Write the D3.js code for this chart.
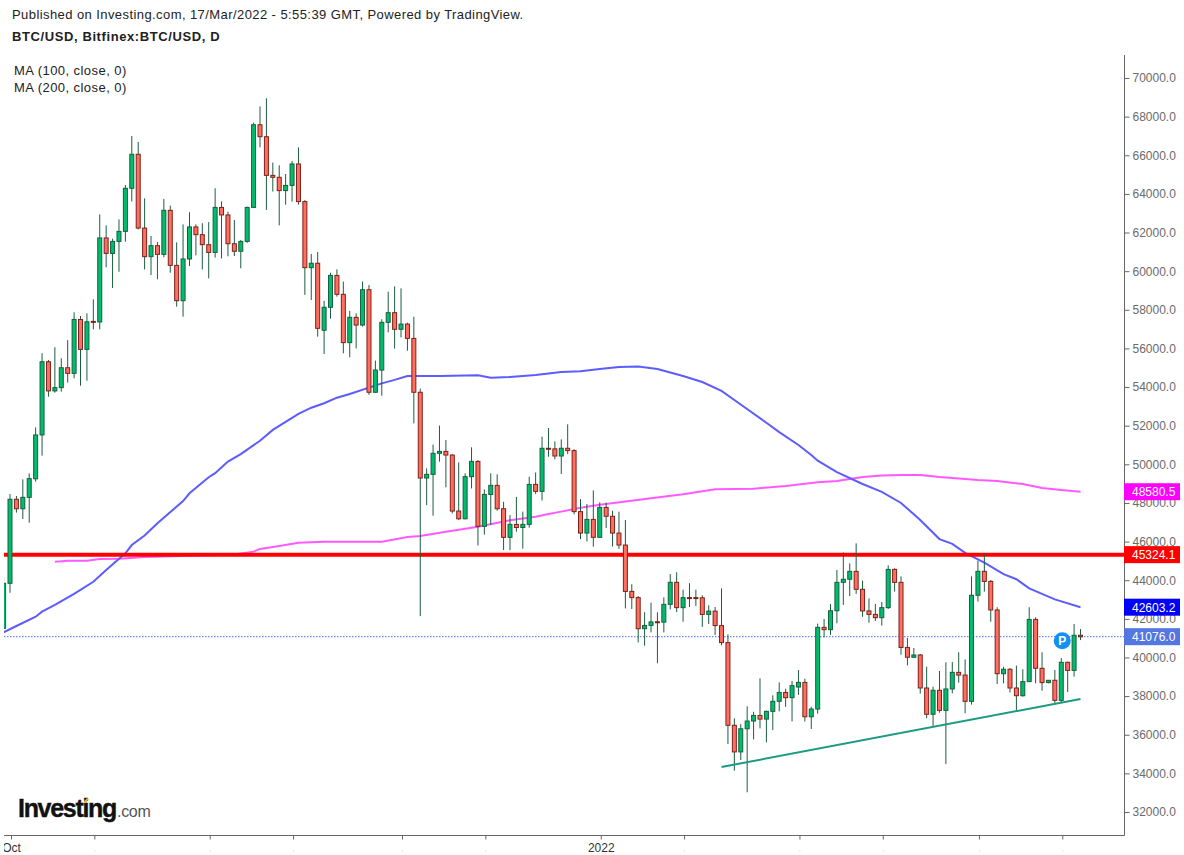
<!DOCTYPE html>
<html>
<head>
<meta charset="utf-8">
<title>BTC/USD</title>
<script src="https://cdn.jsdelivr.net/npm/d3@7"></script>
<style>
  html, body { margin: 0; padding: 0; background: #fff; overflow: hidden; }
  text { font-family: "Liberation Sans", Arial, sans-serif; }
</style>
</head>
<body>
<script>
// Daily candles, first one is the day before the Oct tick (day -1).
const firstDay = -1;

const opens = [
  41510,43840,48190,47700,48290,49250,51520,55310,53800,53970,
  55000,54710,57500,55950,57400,57370,61720,60920,61540,62060,
  64290,66050,62230,60750,61320,60870,63150,60300,58470,60630,
  62290,61890,61370,60970,63300,62910,61420,61030,61540,63300,
  67580,66960,64960,64860,64170,64440,65550,63600,60180,60410,
  56940,58130,59780,58800,56300,57610,57210,59040,53730,54880,
  57350,57850,56990,57260,56520,53730,49290,49480,50570,50670,
  50480,47580,47180,49360,50150,46790,48440,48910,47700,46220,
  46890,46730,46890,48960,48600,50830,50800,50430,50830,50710,
  47550,46440,47150,46220,47770,47310,46440,45820,43420,43100,
  41490,41660,41850,41830,42750,43890,42580,43100,43100,43090,
  42230,42400,41650,40770,36490,35110,36310,36710,37000,36810,
  37210,37730,38190,37920,38470,38710,36930,37330,41560,41440,
  42420,43890,44050,44460,43530,42410,42230,42060,42580,44560,
  43890,40520,40010,40130,38420,37060,38300,37260,38370,39230,
  39090,37730,43220,44460,43940,42460,39160,39390,38420,38020,
  38750,41970,39440,38700,38820,37780,39750,39330,41150
];

const highs = [
  44150,48460,48360,49220,49530,51910,55750,55400,56060,55490,
  56430,57870,57680,57820,58540,62940,62370,61680,62680,64460,
  67000,66690,63770,61820,61510,63740,63390,61490,62420,63050,
  62420,62480,62540,64290,63610,63080,62650,61610,63340,67690,
  68530,68950,65620,65480,65030,65700,66410,63680,60890,60990,
  58460,59920,60090,59460,57940,57820,59460,59280,55370,57510,
  58940,59210,59110,57330,57640,53920,49790,51020,52000,51260,
  50520,50100,49530,50880,50220,48700,49530,49480,48060,47370,
  48310,47550,49360,49580,51430,51880,51190,51290,52070,50780,
  48200,47950,48650,48030,48010,47600,47550,47120,43790,43180,
  42340,42840,42340,43110,44320,44410,43510,43850,43510,43220,
  42700,42610,43580,41200,36850,36550,37470,37190,38920,37250,
  38040,38710,38380,38780,39350,38900,37450,41750,41990,42770,
  44530,45440,44870,45910,43980,43060,42770,42870,44770,44620,
  44200,41010,40490,40180,39520,38490,39300,39750,39770,40270,
  39900,44200,45010,45360,44010,42600,39520,39450,39580,39390,
  42600,42080,40270,38830,39350,39970,39780,41730,41470
];

const lows = [
  41510,43350,47500,47170,46980,49100,50450,53500,53710,53760,
  54230,54450,54070,54330,56990,56990,60200,59130,59970,61530,
  63610,62160,60090,59800,59580,60720,59920,58160,57640,60270,
  60820,60090,59630,60700,60660,60770,60780,60150,61470,63300,
  66410,63170,64120,62370,63440,63600,63450,58770,58510,56610,
  55710,57540,58680,55750,55540,56000,57130,53600,53700,53550,
  56830,55990,56570,55880,52120,42140,47890,47340,50140,48810,
  47460,47120,47150,48750,45800,46360,46860,47600,45560,45560,
  46510,45630,46720,48460,48120,50390,50260,49500,50530,47410,
  46130,46010,45740,46220,46700,45740,45620,42540,42510,40780,
  40610,41300,39700,41300,42490,42350,41850,42610,42660,41580,
  41730,41160,40630,35520,34140,34690,33020,35760,36330,35610,
  36240,37210,37440,36690,38060,36680,36300,37090,41040,41160,
  41770,42720,43180,43290,42100,41800,41890,41650,42510,43410,
  40140,39590,39980,38130,36850,36420,37140,34480,38140,38700,
  37110,37560,42890,43410,41850,38630,38660,38180,37210,37970,
  38750,38660,38280,38660,37630,37630,38210,39010,40900
];

const closes = [
  43840,48190,47700,48290,49260,51520,55310,53800,53970,55000,
  54710,57500,55950,57380,57370,61720,60920,61540,62060,64290,
  66050,62230,60750,61320,60870,63150,60300,58470,60630,62290,
  61890,61370,60970,63300,62910,61420,61030,61540,63300,67580,
  66960,64960,64860,64170,64440,65550,63600,60180,60410,57040,
  58130,59780,58800,56300,57610,57210,59040,53730,54880,57350,
  57850,56990,57260,56520,53730,49290,49480,50570,50670,50480,
  47580,47180,49360,50150,46790,48440,48910,47700,46220,46890,
  46730,46890,48960,48600,50830,50790,50430,50830,50710,47550,
  46440,47150,46220,47770,47310,46440,45820,43420,43100,41490,
  41660,41840,41810,42750,43890,42580,43100,43070,43070,42230,
  42400,41650,40770,36490,35110,36310,36710,37000,36810,37210,
  37730,38190,37920,38540,38710,36930,37330,41560,41440,42420,
  43890,44050,44460,43530,42410,42230,42060,42580,44560,43890,
  40520,40010,40130,38420,37060,38300,37260,38370,39230,39090,
  37730,43220,44460,43940,42460,39160,39390,38420,38020,38750,
  41970,39440,38700,38820,37780,39750,39330,41150,41076
];

// Moving averages, read at the days where the curve bends.
const ma100Days = [-1,1,4,5,7,10,13,15,18,19,21,23,27,28,31,32,34,36,39,41,45,47,49,51,53,58,60,62,67,73,75,78,82,86,89,92,95,98,101,105,108,111,113,118,120,123,125,126,129,133,136,139,142,145,147,149,152,155,157,159,163,167];
const ma100Values = [41300,41630,42110,42370,42720,43290,43920,44530,45390,45820,46310,46950,48100,48500,49330,49540,50140,50530,51220,51780,52610,52930,53160,53450,53640,54190,54370,54570,54570,54610,54480,54520,54620,54780,54820,54930,55040,55060,54930,54570,54260,53800,53330,52150,51670,51000,50480,50190,49600,48980,48570,48000,47120,46130,45880,45420,44910,44310,44050,43580,43010,42603];

const ma200Days = [7,8,9,12,14,17,21,35,38,39,42,45,49,58,62,64,68,73,78,82,84,86,89,92,100,105,110,116,121,126,129,133,136,139,142,145,148,151,154,158,161,164,167];
const ma200Values = [44960,44980,45010,45010,45100,45110,45200,45330,45480,45620,45770,45940,45990,45990,46240,46290,46510,46770,47100,47290,47430,47550,47750,47910,48240,48450,48710,48740,48880,49070,49140,49340,49420,49450,49450,49340,49270,49190,49140,48980,48770,48670,48580.5];

// Trend line under the lows and the horizontal level.
const trendDays = [111, 167];
const trendValues = [34330, 37850];
const levelValue = 45324.1;
const lastValue = 41076.0;

const priceTicks = d3.range(32000, 70001, 2000);
const dayTicks = [0, 13, 31, 44, 61, 74, 92, 105, 123, 136, 151, 164];
const dayTickLabels = ['Oct', '', '', '', '', '', '2022', '', '', '', '', ''];

const priceTags = [
  {value: 48580.5, label: '48580.5', color: '#ff00ff'},
  {value: levelValue, label: '45324.1', color: '#ff0000'},
  {value: 42603.2, label: '42603.2', color: '#0000ff'},
  {value: lastValue, label: '41076.0', color: '#5476e0'}
];

const width = 1184;
const height = 855;
const axisX = 1124.5;
const axisY = 835.5;

const svg = d3.select('body').append('svg')
  .attr('width', width)
  .attr('height', height)
  .style('display', 'block');

const x = d3.scaleLinear().domain([0, 167]).range([10, 1080.5]);
const y = d3.scaleLinear().domain([32000, 70000]).range([812, 78]);

svg.append('clipPath')
  .attr('id', 'plot')
  .append('rect')
    .attr('x', 4)
    .attr('y', 0)
    .attr('width', axisX - 4)
    .attr('height', axisY);

const plotG = svg.append('g').attr('clip-path', 'url(#plot)');

// Current price, dotted.
plotG.append('line')
  .attr('x1', 4)
  .attr('x2', axisX)
  .attr('y1', y(lastValue))
  .attr('y2', y(lastValue))
  .attr('stroke', '#4a6ff0')
  .attr('stroke-width', 1)
  .attr('stroke-dasharray', '1.5,1.5');

const maLine = d3.line().x(d => x(d[0])).y(d => y(d[1]));

plotG.append('path')
  .datum(d3.zip(ma200Days, ma200Values))
  .attr('d', maLine)
  .attr('fill', 'none')
  .attr('stroke', '#ff5aff')
  .attr('stroke-width', 2);

plotG.append('path')
  .datum(d3.zip(ma100Days, ma100Values))
  .attr('d', maLine)
  .attr('fill', 'none')
  .attr('stroke', '#5c5cff')
  .attr('stroke-width', 2);

// The level covers the averages.
plotG.append('line')
  .attr('x1', 4)
  .attr('x2', axisX)
  .attr('y1', y(levelValue))
  .attr('y2', y(levelValue))
  .attr('stroke', '#ff0000')
  .attr('stroke-width', 4);

// Candles
const candles = opens.map((o, i) => ({
  day: firstDay + i, open: o, high: highs[i], low: lows[i], close: closes[i]
}));

plotG.selectAll('.wick')
  .data(candles)
  .enter()
  .append('line')
    .attr('class', 'wick')
    .attr('x1', d => x(d.day))
    .attr('x2', d => x(d.day))
    .attr('y1', d => y(d.high))
    .attr('y2', d => y(d.low))
    .attr('stroke', '#1b5e3f')
    .attr('stroke-width', 1);

plotG.selectAll('.body')
  .data(candles)
  .enter()
  .append('rect')
    .attr('class', 'body')
    .attr('x', d => x(d.day) - 2)
    .attr('y', d => y(Math.max(d.open, d.close)))
    .attr('width', 4)
    .attr('height', d => Math.max(1, Math.abs(y(d.open) - y(d.close))))
    .attr('fill', d => d.close >= d.open ? '#00bd6d' : '#ff6f60')
    .attr('stroke', d => d.close >= d.open ? '#14603f' : '#7d2019')
    .attr('stroke-width', 1);

plotG.append('path')
  .datum(d3.zip(trendDays, trendValues))
  .attr('d', maLine)
  .attr('fill', 'none')
  .attr('stroke', '#1c9a82')
  .attr('stroke-width', 2);

// Pin marker
const pinG = svg.append('g')
  .attr('transform', `translate(${x(164) + 1}, ${y(40870)})`);
pinG.append('circle')
  .attr('r', 8.5)
  .attr('fill', '#1090f5');
pinG.append('text')
  .attr('text-anchor', 'middle')
  .attr('dy', 4.5)
  .attr('font-size', '12px')
  .attr('font-weight', 'bold')
  .attr('fill', 'white')
  .text('P');

// Axes
const yAxis = d3.axisRight(y)
  .tickValues(priceTicks)
  .tickFormat(d3.format('.1f'))
  .tickSize(5)
  .tickPadding(3);

const yAxisG = svg.append('g')
  .attr('class', 'y axis')
  .attr('transform', `translate(${axisX}, 0)`)
  .call(yAxis);
yAxisG.select('.domain').remove();
yAxisG.selectAll('.tick line').attr('stroke', '#666');
yAxisG.selectAll('.tick text')
  .attr('font-size', '12px')
  .attr('fill', '#6b6b6b')
  .attr('font-family', '"Liberation Sans", Arial, sans-serif');

svg.append('line')
  .attr('x1', axisX)
  .attr('x2', axisX)
  .attr('y1', 55)
  .attr('y2', axisY)
  .attr('stroke', '#666');

const xAxis = d3.axisBottom(x)
  .tickValues(dayTicks)
  .tickFormat((d, i) => dayTickLabels[i])
  .tickSize(4)
  .tickPadding(4);

svg.append('clipPath')
  .attr('id', 'xclip')
  .append('rect')
    .attr('x', 3)
    .attr('y', -2)
    .attr('width', axisX)
    .attr('height', 30);

const xAxisG = svg.append('g')
  .attr('class', 'x axis')
  .attr('transform', `translate(1, ${axisY})`)
  .attr('clip-path', 'url(#xclip)')
  .call(xAxis);
xAxisG.select('.domain').remove();
xAxisG.selectAll('.tick line').attr('stroke', '#666');
xAxisG.selectAll('.tick text')
  .attr('font-size', '12px')
  .attr('fill', '#333')
  .attr('font-family', '"Liberation Sans", Arial, sans-serif');

// Faint specks where the unlabelled ticks lose their text at the window edge.
xAxisG.selectAll('.tick')
  .filter((d, i) => dayTickLabels[i] === '' )
  .append('line')
    .attr('y1', 15)
    .attr('y2', 16)
    .attr('stroke', '#ccc');

svg.append('line')
  .attr('x1', 4)
  .attr('x2', axisX)
  .attr('y1', axisY)
  .attr('y2', axisY)
  .attr('stroke', '#666');

// Tags on the price axis
const tagG = svg.selectAll('.tag')
  .data(priceTags)
  .enter()
  .append('g')
    .attr('class', 'tag')
    .attr('transform', d => `translate(${axisX - 0.5}, ${y(d.value)})`);
tagG.append('rect')
  .attr('y', -8.5)
  .attr('width', 56)
  .attr('height', 17)
  .attr('fill', d => d.color);
tagG.append('text')
  .attr('x', 8)
  .attr('dy', 4.5)
  .attr('font-size', '12px')
  .attr('fill', 'white')
  .text(d => d.label);

// Header texts
const headerLines = [
  {text: 'Published on Investing.com, 17/Mar/2022 - 5:55:39 GMT, Powered by TradingView.', x: 12, y: 19, weight: 'normal', spacing: 0.42},
  {text: 'BTC/USD, Bitfinex:BTC/USD, D', x: 12, y: 41, weight: 'bold', spacing: 0.6},
  {text: 'MA (100, close, 0)', x: 14, y: 75, weight: 'normal', spacing: 0.44},
  {text: 'MA (200, close, 0)', x: 14, y: 92, weight: 'normal', spacing: 0.44}
];

svg.selectAll('.header')
  .data(headerLines)
  .enter()
  .append('text')
    .attr('class', 'header')
    .attr('x', d => d.x)
    .attr('y', d => d.y)
    .attr('font-size', '13px')
    .attr('font-weight', d => d.weight)
    .attr('letter-spacing', d => d.spacing)
    .attr('fill', '#222')
    .text(d => d.text);

// Logo
svg.append('text')
  .attr('x', 18)
  .attr('y', 817)
  .attr('font-size', '25px')
  .attr('font-weight', 'bold')
  .attr('letter-spacing', '-1.3')
  .attr('stroke', '#111')
  .attr('stroke-width', 0.4)
  .attr('fill', '#111')
  .text('Investing');
svg.append('text')
  .attr('x', 117)
  .attr('y', 817)
  .attr('font-size', '16px')
  .attr('letter-spacing', '-0.3')
  .attr('fill', '#555')
  .text('.com');
svg.append('path')
  .attr('d', 'M83.5 802 L87 798 L88.5 799 L86 803 Z')
  .attr('fill', '#f5a623');
</script>
</body>
</html>
